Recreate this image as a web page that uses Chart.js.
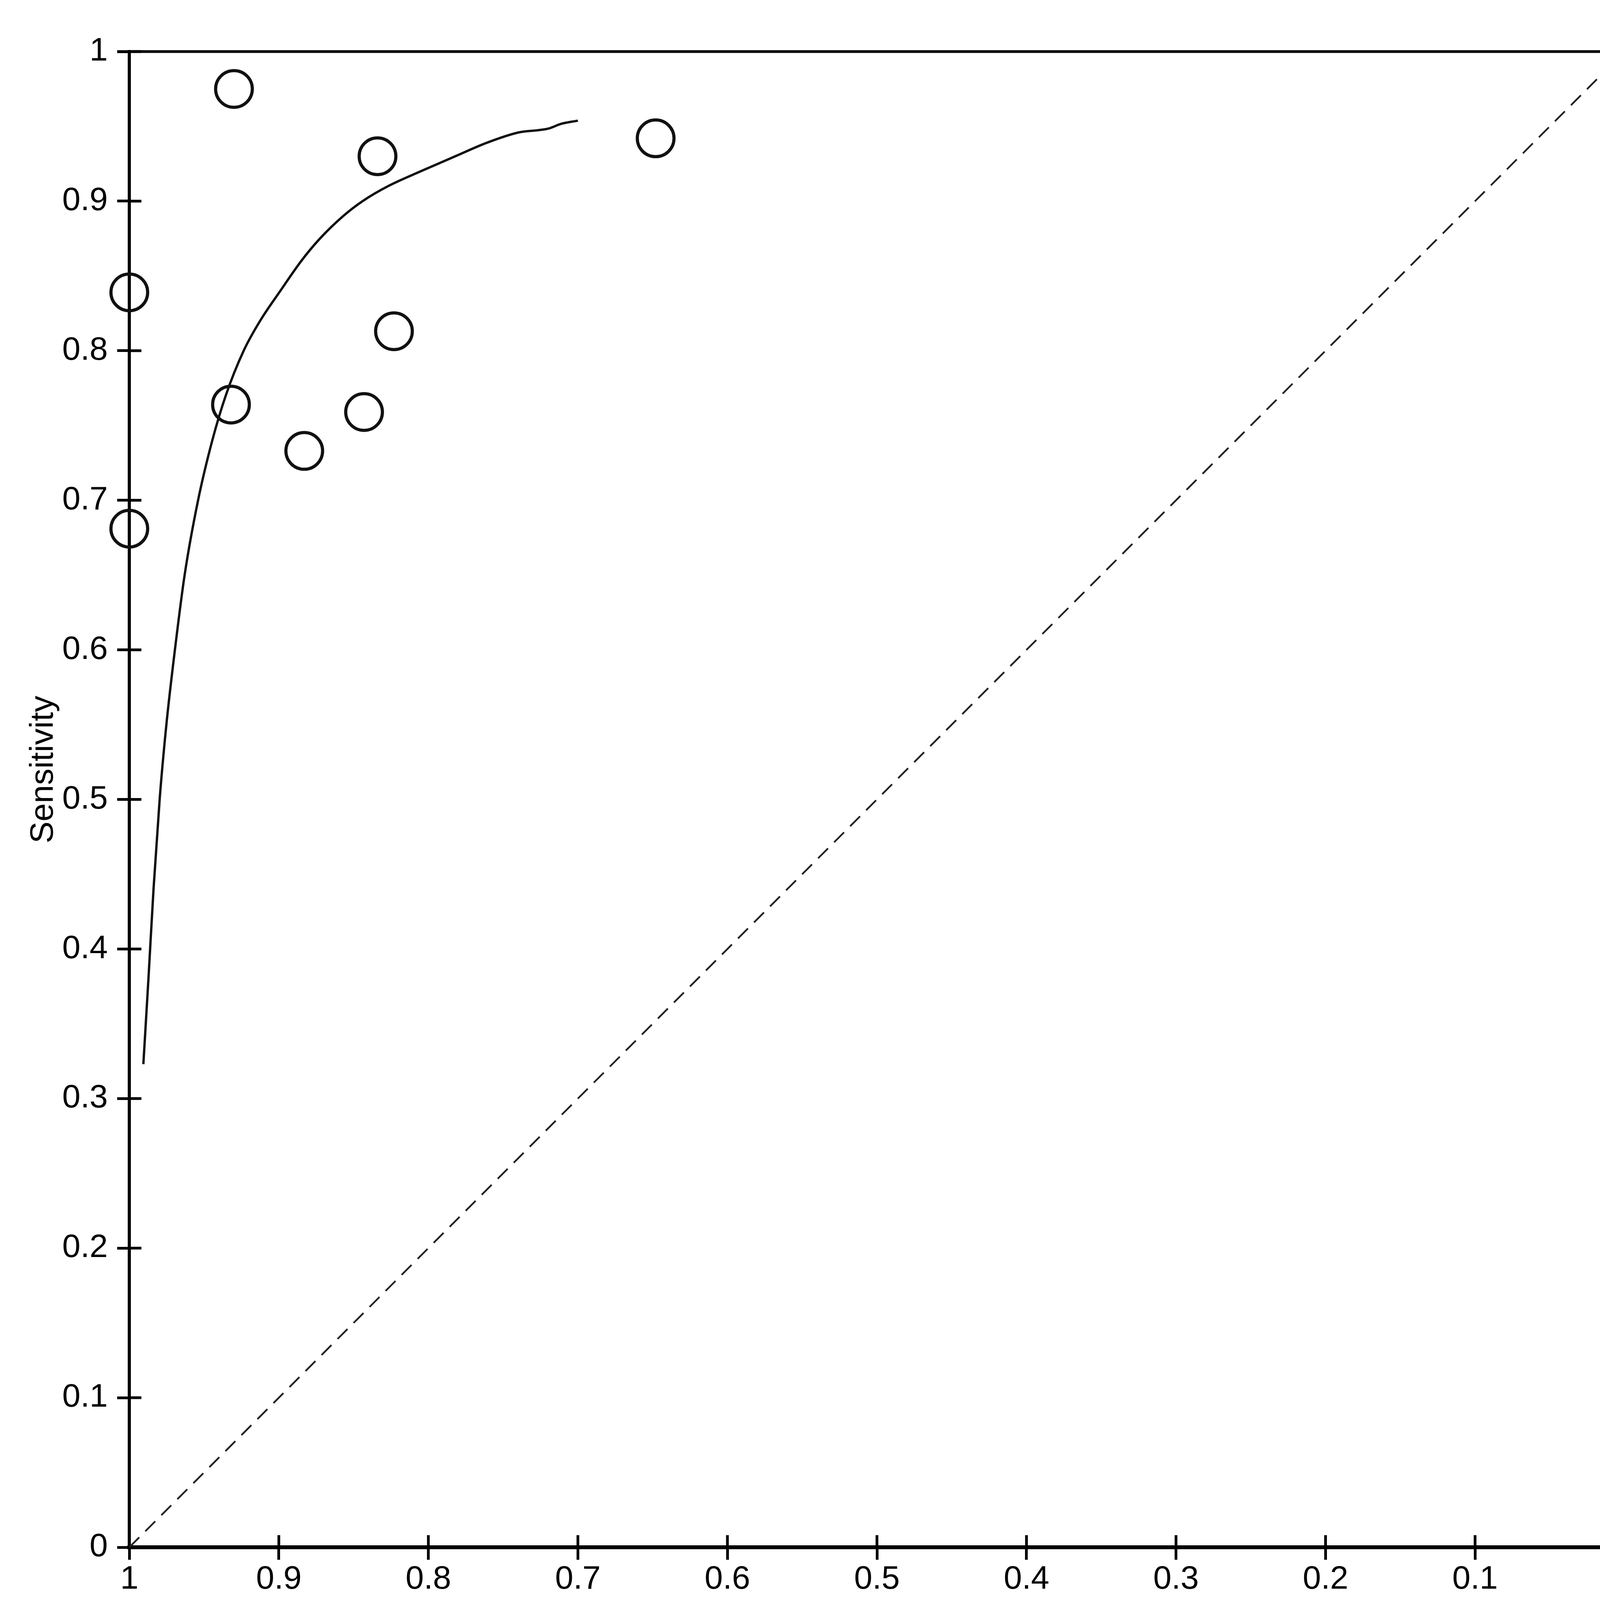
<!DOCTYPE html>
<html>
<head>
<meta charset="utf-8">
<script src="https://cdn.jsdelivr.net/npm/chart.js@4.4.1/dist/chart.umd.min.js"></script>
<style>
  html, body { margin: 0; padding: 0; background: #fff; }
  #box { width: 4276px; height: 4229px; }
</style>
</head>
<body>
<div id="box"><canvas id="sroc" width="4276" height="4229"></canvas></div>
<script>
// individual studies (specificity, sensitivity)
const studySpec = [0.930, 0.834, 0.648, 1.000, 0.823, 0.932, 0.843, 0.883, 1.000];
const studySens = [0.975, 0.930, 0.942, 0.839, 0.813, 0.764, 0.759, 0.733, 0.681];

// fitted SROC curve, read along its length
const curveSpec = [0.9906, 0.9872, 0.9838, 0.9797, 0.9752, 0.9695, 0.9630, 0.9540, 0.9445, 0.9355, 0.9235, 0.9125, 0.8990, 0.8850, 0.8725, 0.8570, 0.8440, 0.8270, 0.8050, 0.7820, 0.7610, 0.7393, 0.7260, 0.7197, 0.7111, 0.7000];
const curveSens = [0.323, 0.380, 0.440, 0.500, 0.550, 0.600, 0.650, 0.700, 0.740, 0.770, 0.800, 0.820, 0.840, 0.860, 0.875, 0.890, 0.900, 0.910, 0.920, 0.930, 0.939, 0.946, 0.9475, 0.9485, 0.9517, 0.9538];

// chance line
const diagSpec = [1, 0];
const diagSens = [0, 1];

const xTickValues = [1, 0.9, 0.8, 0.7, 0.6, 0.5, 0.4, 0.3, 0.2, 0.1, 0];
const xTickLabels = ['1', '0.9', '0.8', '0.7', '0.6', '0.5', '0.4', '0.3', '0.2', '0.1', '0'];
const yTickValues = [0, 0.1, 0.2, 0.3, 0.4, 0.5, 0.6, 0.7, 0.8, 0.9, 1];
const yTickLabels = ['0', '0.1', '0.2', '0.3', '0.4', '0.5', '0.6', '0.7', '0.8', '0.9', '1'];

const FONT = '"Liberation Sans", Arial, sans-serif';
const pts = (xs, ys) => xs.map((x, i) => ({ x, y: ys[i] }));
const labelFor = (vals, labels) => (v) => {
  const i = vals.findIndex((t) => Math.abs(t - v) < 1e-9);
  return i >= 0 ? labels[i] : '';
};

// top/right frame, inner half of the tick marks, and the rotated y title
const framePlugin = {
  id: 'frame',
  beforeDatasetsDraw(chart) {
    const { ctx, chartArea: a, scales } = chart;
    ctx.save();
    ctx.strokeStyle = '#000';
    ctx.lineWidth = 7;
    ctx.beginPath(); ctx.moveTo(a.left - 31, a.top); ctx.lineTo(a.right + 3, a.top); ctx.stroke();
    ctx.beginPath(); ctx.moveTo(a.right, a.top); ctx.lineTo(a.right, a.bottom + 32); ctx.stroke();
    xTickValues.forEach((v) => {
      const px = scales.x.getPixelForValue(v);
      ctx.beginPath(); ctx.moveTo(px, a.bottom); ctx.lineTo(px, a.bottom - 31); ctx.stroke();
    });
    yTickValues.forEach((v) => {
      const py = scales.y.getPixelForValue(v);
      ctx.beginPath(); ctx.moveTo(a.left, py); ctx.lineTo(a.left + 31, py); ctx.stroke();
    });
    ctx.restore();
  },
  afterDraw(chart) {
    const { ctx } = chart;
    ctx.save();
    ctx.translate(112, 1970);
    ctx.rotate(-Math.PI / 2);
    ctx.font = '84px ' + FONT;
    ctx.fillStyle = '#000';
    ctx.textAlign = 'center';
    ctx.textBaseline = 'middle';
    ctx.fillText('Sensitivity', 0, 0);
    ctx.restore();
  },
};

new Chart(document.getElementById('sroc'), {
  type: 'scatter',
  data: {
    datasets: [
      {
        label: 'Chance',
        data: pts(diagSpec, diagSens),
        showLine: true,
        borderColor: '#222',
        borderWidth: 4.5,
        borderDash: [36, 22],
        pointRadius: 0,
      },
      {
        label: 'SROC',
        data: pts(curveSpec, curveSens),
        showLine: true,
        borderColor: '#111',
        borderWidth: 6,
        cubicInterpolationMode: 'monotone',
        pointRadius: 0,
      },
      {
        label: 'Studies',
        data: pts(studySpec, studySens),
        showLine: false,
        pointStyle: 'circle',
        pointRadius: 47,
        pointBorderWidth: 8,
        pointBorderColor: '#111',
        pointBackgroundColor: 'rgba(0,0,0,0)',
        clip: false,
      },
    ],
  },
  options: {
    responsive: false,
    devicePixelRatio: 1,
    animation: false,
    events: [],
    layout: { padding: { left: 0, top: 132, right: 117, bottom: 0 } },
    plugins: { legend: { display: false }, tooltip: { enabled: false } },
    scales: {
      x: {
        type: 'linear', min: 0, max: 1, reverse: true,
        afterFit: (s) => { s.height = 268; },
        afterBuildTicks: (s) => { s.ticks = xTickValues.map((value) => ({ value })); },
        grid: { drawOnChartArea: false, drawTicks: true, tickLength: 32, tickWidth: 7, tickColor: '#000' },
        border: { display: true, color: '#000', width: 10 },
        ticks: { color: '#000', padding: 0, maxRotation: 0, autoSkip: false, font: { family: FONT, size: 84 }, callback: labelFor(xTickValues, xTickLabels) },
        title: { display: true, text: 'Specificity', color: '#000', font: { family: FONT, size: 84 }, padding: { top: 0, bottom: 41 } },
      },
      y: {
        type: 'linear', min: 0, max: 1,
        afterFit: (s) => { s.width = 331; },
        afterBuildTicks: (s) => { s.ticks = yTickValues.map((value) => ({ value })); },
        grid: { drawOnChartArea: false, drawTicks: true, tickLength: 31, tickWidth: 7, tickColor: '#000' },
        border: { display: true, color: '#000', width: 8 },
        ticks: { color: '#000', padding: 24, autoSkip: false, font: { family: FONT, size: 84 }, callback: labelFor(yTickValues, yTickLabels) },
      },
    },
  },
  plugins: [framePlugin],
});
</script>
</body>
</html>
